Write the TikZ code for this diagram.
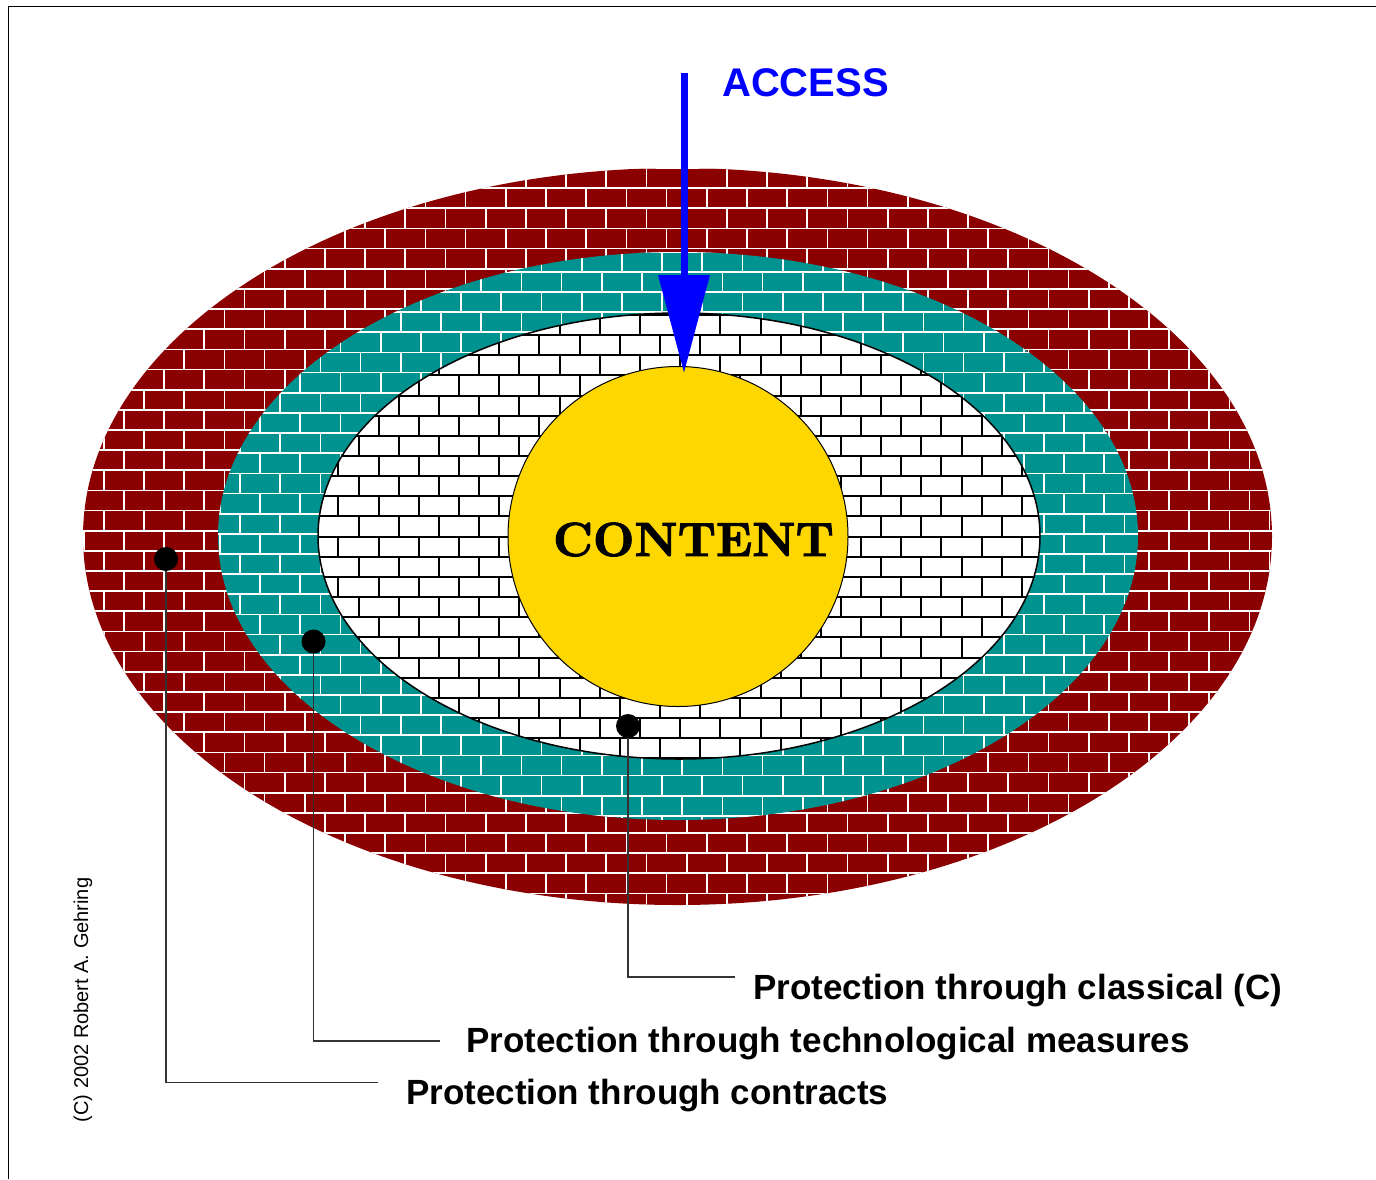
\documentclass[tikz,border=0pt]{standalone}
\usepackage{fontspec}
\setsansfont{Liberation Sans}
\newfontfamily\contentfont{lmroman10-bold.otf}[FakeBold=2]
\usetikzlibrary{arrows.meta}

\definecolor{brickred}{RGB}{139,0,0}
\definecolor{brickteal}{RGB}{0,146,143}
\definecolor{contentgold}{RGB}{255,215,0}
\definecolor{accessblue}{RGB}{0,0,255}

% #1 y of a mortar line, #2 x of a joint in that row, #3 rows, #4 joints, #5 mortar style
\newcommand{\brickwall}[5]{%
	\foreach \r in {-#3,...,#3} {
		\pgfmathsetmacro{\rowy}{#1+\r*\bh}
		\pgfmathsetmacro{\jx}{#2+mod(abs(\r),2)*\bw/2}
		\draw[#5] (0,\rowy) -- (1376,\rowy);
		\foreach \col in {-#4,...,#4}
			\draw[#5] ({\jx+\col*\bw},\rowy) -- ++(0,\bh);
	};
}

\begin{document}
\begin{tikzpicture}[x=1pt, y=-1pt,
		whitemortar/.style={draw=white, line width=1.7pt},
		blackmortar/.style={draw=black, line width=2pt},
		dotstyle/.style={circle, fill=black, minimum size=24pt, inner sep=0pt},
		leader/.style={draw=black!80, line width=1.2pt},
		labelstyle/.style={font=\sffamily\bfseries\fontsize{35}{40}\selectfont,
		inner sep=0pt, anchor=base west},
		accessarrow/.style={draw=accessblue, line width=7pt,
		-{Triangle[length=98pt, width=50pt]}}]
	\def \bh {20.15}
	\def \bw {40.2}
	\useasboundingbox (0,0) rectangle (1376,1179);

	% outer wall
	\begin{scope}
		\clip (677.5,536.5) ellipse [x radius=594.5pt, y radius=368.5pt];
		\fill[brickred] (0,0) rectangle (1376,1179);
		\brickwall{530.7}{646.5}{19}{16}{whitemortar}
	\end{scope}
	% middle wall
	\begin{scope}
		\clip (678,536) ellipse [x radius=460pt, y radius=284pt];
		\fill[brickteal] (0,0) rectangle (1376,1179);
		\brickwall{533.8}{662.1}{15}{12}{whitemortar}
	\end{scope}
	% inner wall
	\begin{scope}
		\clip (679,536) ellipse [x radius=361pt, y radius=223pt];
		\fill[white] (0,0) rectangle (1376,1179);
		\brickwall{536.6}{660}{12}{10}{blackmortar}
	\end{scope}
	\draw[line width=1.5pt] (679,536) ellipse [x radius=361pt, y radius=223pt];

	\node[circle, fill=contentgold, draw=black, line width=1pt,
		minimum size=340pt, inner sep=0pt] (content) at (678,536.5) {};
	\node[font=\contentfont\fontsize{48}{50}\selectfont, inner sep=0pt, anchor=base]
		(contenttext) at (693.5,556) {CONTENT};

	\coordinate (accessstart) at (684,73);
	\coordinate (accesstip) at (684,373);
	\draw[accessarrow] (accessstart) -- (accesstip);
	\node[font=\sffamily\bfseries\fontsize{40}{46}\selectfont, text=accessblue,
		inner sep=0pt, anchor=base west] (access) at (722,96) {ACCESS};

	\node[dotstyle] (contractsdot) at (166,559) {};
	\node[dotstyle] (techdot) at (313.5,641.5) {};
	\node[dotstyle] (classicdot) at (628,726) {};
	\coordinate (contractsend) at (378,1082.5);
	\coordinate (techend) at (440,1041);
	\coordinate (classicend) at (735,977);
	\draw[leader] (contractsdot) |- (contractsend);
	\draw[leader] (techdot) |- (techend);
	\draw[leader] (classicdot) |- (classicend);

	\node[labelstyle] (classiclabel) at (753,999) {Protection through classical (C)};
	\node[labelstyle] (techlabel) at (466,1052) {Protection through technological measures};
	\node[labelstyle] (contractslabel) at (406,1104) {Protection through contracts};

	\node[font=\sffamily\fontsize{20}{24}\selectfont, rotate=90, anchor=base,
		inner sep=0pt] (copyright) at (88,1000) {(C) 2002 Robert A. Gehring};

	\draw[line width=1.3pt] (8.5,1179) -- (8.5,6.5) -- (1376,6.5);
\end{tikzpicture}
\end{document}
